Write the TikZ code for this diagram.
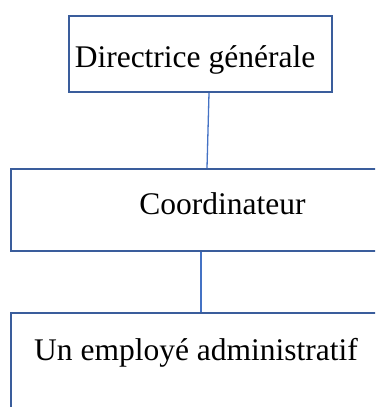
\documentclass[tikz,border=0pt]{standalone}
\usepackage{fontspec}
\setmainfont{Liberation Serif}
\usetikzlibrary{positioning, calc}
\definecolor{boxblue}{HTML}{3A5D9C}
\definecolor{linkblue}{HTML}{4472C4}

\begin{document}
\begin{tikzpicture}[x=1pt,y=-1pt]
  \tikzstyle{orgbox}=[draw=boxblue,line width=2pt,inner sep=0pt,anchor=north west]
  \tikzstyle{orgtext}=[anchor=base,inner sep=0pt,font=\fontsize{31.5}{38}\selectfont]
  \tikzstyle{link}=[draw=linkblue,line width=1.3pt]

  \useasboundingbox (0,0) rectangle (375,407);
  \clip (0,0) rectangle (375,407);

  \node[orgbox,minimum width=263pt,minimum height=76pt] (dg) at (68,15) {};
  \node[orgbox,minimum width=392pt,minimum height=82pt] (co) at (10,168) {};
  \node[orgbox,minimum width=380pt,minimum height=120pt] (emp) at (10,312) {};

  \node[orgtext] (dgtext) at (195,67) {Directrice générale};
  \node[orgtext] (cotext) at (222.5,214) {Coordinateur};
  \node[orgtext] (emptext) at (196,360.5) {Un employé administratif};

  \path[link] ([xshift=8.5pt]dg.south) -- (co.north);
  \path[link] ([xshift=-6pt]co.south) -- (emp.north);
\end{tikzpicture}
\end{document}
